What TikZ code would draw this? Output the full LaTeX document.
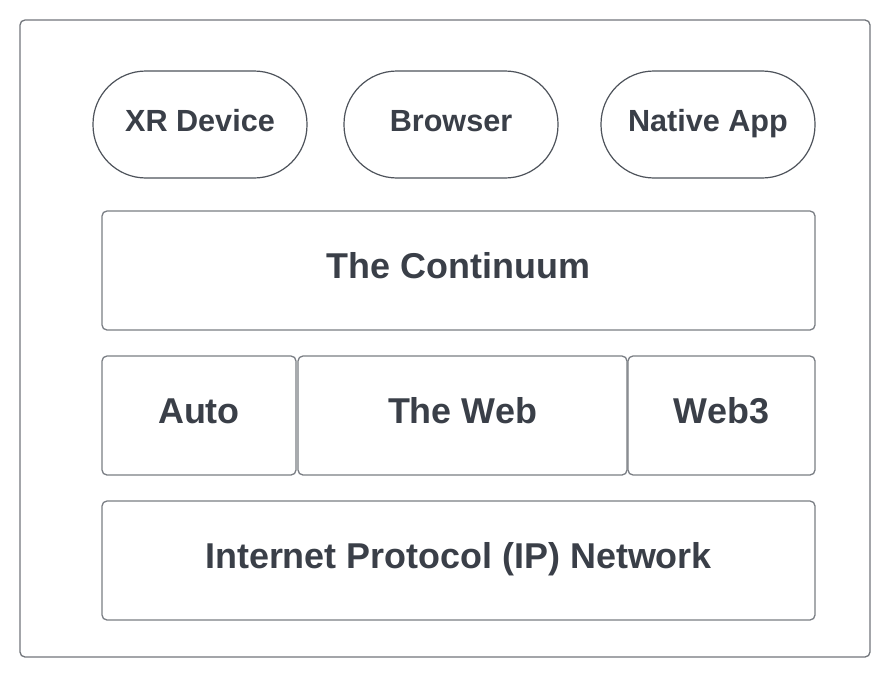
\documentclass[tikz,border=0pt]{standalone}
\usepackage{fontspec}
\setmainfont{Liberation Sans}
\definecolor{txt}{HTML}{3A3F48}
\definecolor{frame}{HTML}{72767C}
\definecolor{pillline}{HTML}{4E535B}
\definecolor{boxline}{HTML}{7A7E84}
\begin{document}
\begin{tikzpicture}[x=1pt,y=-1pt,
  outer/.style={draw=frame,line width=1.3pt,rounded corners=5pt,minimum width=850pt,minimum height=637pt,inner sep=0pt},
  pill/.style={draw=pillline,line width=1.2pt,rounded corners=53pt,minimum width=214pt,minimum height=107pt,inner sep=0pt,
    text=txt,font=\bfseries\fontsize{30.6}{36}\selectfont,text height=21.5pt,text depth=7.5pt},
  layer/.style={draw=boxline,line width=1.3pt,rounded corners=5pt,minimum height=119pt,inner sep=0pt,
    text=txt,font=\bfseries\fontsize{35.9}{42}\selectfont,text height=25pt,text depth=9pt}]
\useasboundingbox (0,0) rectangle (890,677);
\fill[white] (0,0) rectangle (890,677);
\node[outer] (frame) at (445,338.5) {};
\node[pill] (xr) at (200,124.5) {XR Device};
\node[pill] (br) at (451,124.5) {Browser};
\node[pill] (na) at (708,124.5) {Native App};
\node[layer,minimum width=713pt] (cont) at (458.5,270.5) {The Continuum};
\node[layer,minimum width=194pt] (auto) at (199,415.5) {Auto};
\node[layer,minimum width=329pt] (web) at (462.5,415.5) {The Web};
\node[layer,minimum width=187pt] (web3) at (721.5,415.5) {Web3};
\node[layer,minimum width=713pt] (ip) at (458.5,560.5) {Internet Protocol (IP) Network};
\end{tikzpicture}
\end{document}
